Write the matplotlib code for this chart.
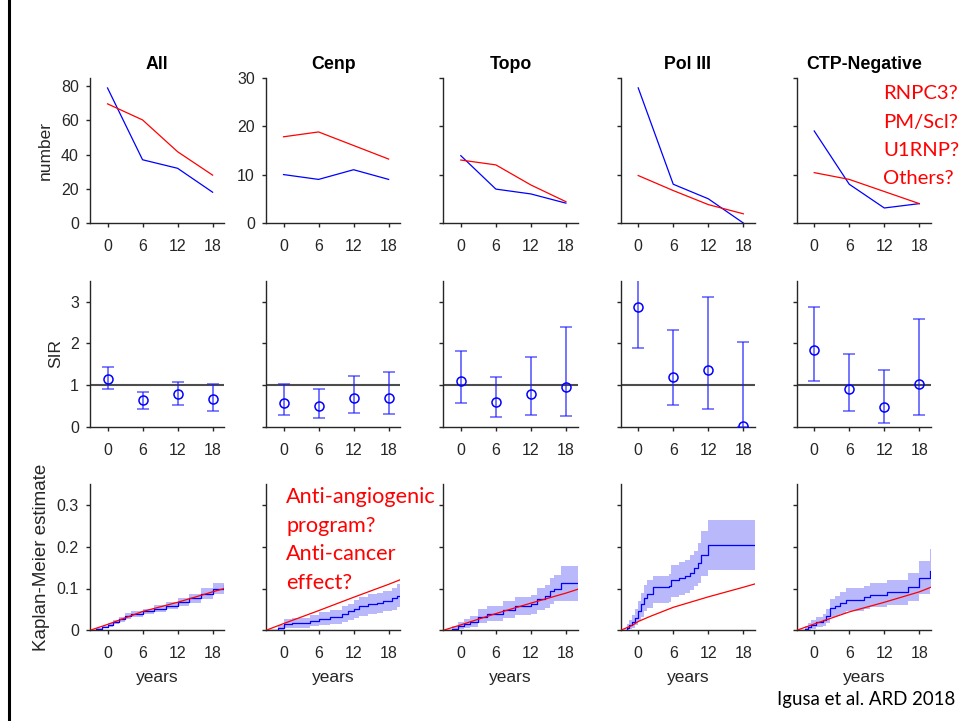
import matplotlib
matplotlib.use("Agg")
import matplotlib.pyplot as plt
from matplotlib.lines import Line2D

plt.rcParams["font.family"] = ["Liberation Sans", "DejaVu Sans"]

groups = ["All", "Cenp", "Topo", "Pol III", "CTP-Negative"]
periods = [0, 6, 12, 18]

# number of cancers: observed (blue) and expected (red)
num_obs = {
    "All": [79, 37, 32, 18],
    "Cenp": [10, 9, 11, 9],
    "Topo": [13.9, 7.0, 6.0, 4.1],
    "Pol III": [27.9, 8.0, 5.0, 0],
    "CTP-Negative": [19.0, 8.0, 3.1, 4.0],
}
num_exp = {
    "All": [69.7, 60.3, 41.7, 28],
    "Cenp": [17.8, 18.8, 16.0, 13.2],
    "Topo": [13.0, 12.0, 7.85, 4.4],
    "Pol III": [9.8, 6.7, 3.8, 1.9],
    "CTP-Negative": [10.4, 9.0, 6.5, 4.0],
}

# standardized incidence ratio with 95% CI
sir = {
    "All": [1.15, 0.63, 0.78, 0.66],
    "Cenp": [0.58, 0.49, 0.70, 0.70],
    "Topo": [1.09, 0.59, 0.78, 0.94],
    "Pol III": [2.87, 1.18, 1.35, 0.02],
    "CTP-Negative": [1.85, 0.90, 0.47, 1.02],
}
sir_lo = {
    "All": [0.90, 0.43, 0.52, 0.38],
    "Cenp": [0.27, 0.22, 0.34, 0.30],
    "Topo": [0.58, 0.23, 0.28, 0.26],
    "Pol III": [1.89, 0.51, 0.43, 0.0],
    "CTP-Negative": [1.10, 0.38, 0.09, 0.27],
}
sir_hi = {
    "All": [1.42, 0.84, 1.07, 1.02],
    "Cenp": [1.03, 0.91, 1.22, 1.30],
    "Topo": [1.81, 1.20, 1.68, 2.38],
    "Pol III": [4.20, 2.32, 3.12, 2.04],
    "CTP-Negative": [2.87, 1.75, 1.35, 2.59],
}

# Kaplan-Meier cumulative incidence (blue step), CI band, expected (red)
km_t = {
    "All": [-3, -2, -1, 0, 1, 2, 3, 4, 6, 8, 10, 12, 14, 16, 18, 20],
    "Cenp": [-3, -1, 0, 1.5, 4.5, 6, 8, 10, 11, 12, 13, 14.5, 16, 17, 18.5, 19.5, 20],
    "Topo": [-3, -1.5, -0.5, 0.5, 1.5, 3, 4.5, 7.2, 9.2, 12, 13, 14.5, 15.3, 16, 17.2, 20],
    "Pol III": [-3, -2, -1.5, -1, -0.5, 0, 0.5, 1, 1.5, 2.5, 5.2, 5.6, 7, 8, 8.8,
                9.5, 10.2, 10.7, 12, 20],
    "CTP-Negative": [-3, -1.5, -1, -0.5, 0.3, 1.5, 2, 2.7, 3.5, 4.5, 5.5, 8.5, 9.5,
                     12.5, 16, 18, 19.8, 20],
}
km_est = {
    "All": [0, 0.003, 0.008, 0.013, 0.02, 0.027, 0.035, 0.039, 0.045, 0.052, 0.059,
            0.067, 0.077, 0.088, 0.1, 0.108],
    "Cenp": [0, 0.005, 0.015, 0.017, 0.023, 0.028, 0.033, 0.039, 0.045, 0.05, 0.057,
             0.062, 0.065, 0.07, 0.077, 0.083, 0.083],
    "Topo": [0, 0.004, 0.01, 0.016, 0.021, 0.032, 0.04, 0.049, 0.058, 0.062, 0.074,
             0.081, 0.093, 0.1, 0.112, 0.112],
    "Pol III": [0, 0.005, 0.012, 0.02, 0.03, 0.045, 0.062, 0.078, 0.088, 0.104, 0.106,
                0.12, 0.125, 0.13, 0.138, 0.148, 0.16, 0.18, 0.203, 0.203],
    "CTP-Negative": [0, 0.003, 0.008, 0.013, 0.019, 0.025, 0.034, 0.053, 0.057, 0.065,
                     0.073, 0.079, 0.085, 0.091, 0.104, 0.125, 0.142, 0.142],
}
km_lo = {
    "All": [0, 0.001, 0.005, 0.009, 0.015, 0.021, 0.028, 0.032, 0.038, 0.044, 0.05,
            0.057, 0.066, 0.076, 0.087, 0.093],
    "Cenp": [0, 0.001, 0.005, 0.006, 0.01, 0.013, 0.016, 0.021, 0.025, 0.03, 0.035,
             0.039, 0.041, 0.045, 0.049, 0.056, 0.056],
    "Topo": [0, 0, 0.002, 0.006, 0.009, 0.017, 0.023, 0.03, 0.037, 0.04, 0.049,
             0.054, 0.063, 0.069, 0.069, 0.069],
    "Pol III": [0, 0, 0.002, 0.006, 0.012, 0.022, 0.033, 0.045, 0.053, 0.065, 0.068,
                0.08, 0.085, 0.09, 0.097, 0.105, 0.114, 0.13, 0.145, 0.145],
    "CTP-Negative": [0, 0, 0.001, 0.004, 0.007, 0.011, 0.017, 0.031, 0.034, 0.04,
                     0.047, 0.052, 0.056, 0.061, 0.071, 0.088, 0.1, 0.1],
}
km_hi = {
    "All": [0, 0.005, 0.011, 0.017, 0.025, 0.033, 0.042, 0.046, 0.052, 0.06, 0.068,
            0.077, 0.088, 0.1, 0.113, 0.123],
    "Cenp": [0, 0.012, 0.027, 0.03, 0.037, 0.043, 0.049, 0.058, 0.064, 0.072, 0.08,
             0.086, 0.09, 0.095, 0.1, 0.11, 0.11],
    "Topo": [0, 0.011, 0.02, 0.028, 0.035, 0.05, 0.059, 0.07, 0.08, 0.085, 0.1,
             0.108, 0.125, 0.133, 0.155, 0.155],
    "Pol III": [0, 0.014, 0.025, 0.037, 0.05, 0.07, 0.09, 0.108, 0.12, 0.13, 0.135,
                0.157, 0.163, 0.169, 0.18, 0.19, 0.21, 0.237, 0.265, 0.265],
    "CTP-Negative": [0, 0.01, 0.017, 0.024, 0.032, 0.04, 0.052, 0.076, 0.081, 0.091,
                     0.1, 0.106, 0.114, 0.12, 0.137, 0.165, 0.195, 0.195],
}
exp_t = {
    "All": [-3, 0, 6, 12, 18, 20],
    "Cenp": [-3, 0, 6, 12, 18, 20],
    "Topo": [-3, 0, 6, 12, 18, 20],
    "Pol III": [-3, -1, 0, 2, 6, 12, 18, 20],
    "CTP-Negative": [-3, 0, 6, 12, 18, 20],
}
exp_v = {
    "All": [0, 0.014, 0.045, 0.067, 0.092, 0.1],
    "Cenp": [0, 0.016, 0.047, 0.079, 0.11, 0.121],
    "Topo": [0, 0.013, 0.04, 0.065, 0.089, 0.098],
    "Pol III": [0, 0.012, 0.021, 0.033, 0.055, 0.08, 0.103, 0.111],
    "CTP-Negative": [0, 0.015, 0.044, 0.067, 0.092, 0.103],
}

note_top = ["RNPC3?", "PM/Scl?", "U1RNP?", "Others?"]
note_km = ["Anti-angiogenic", "program?", "Anti-cancer", "effect?"]
citation = "Igusa et al. ARD 2018"

W, H = 962, 721
fig = plt.figure(figsize=(W / 100, H / 100), dpi=100)

col_left = [90, 266, 443.3, 620.7, 796.7]
ax_w = 134.3
row_box = [(77.7, 223.0), (280.7, 426.7), (484.0, 630.3)]  # top, bottom in px
TICK_FS = 11.5
LABEL_FS = 12.5


def make_ax(col, row):
    top, bot = row_box[row]
    ax = fig.add_axes([col_left[col] / W, (H - bot) / H, ax_w / W, (bot - top) / H])
    for s in ("top", "right"):
        ax.spines[s].set_visible(False)
    for s in ("left", "bottom"):
        ax.spines[s].set_color("#262626")
        ax.spines[s].set_linewidth(1.0)
    ax.tick_params(direction="out", length=3, width=1.0, colors="#262626",
                   labelsize=TICK_FS, labelcolor="#262626")
    ax.tick_params(axis="x", pad=8.5)
    ax.tick_params(axis="y", pad=5)
    ax.set_xlim(-3, 20)
    ax.set_xticks(periods)
    return ax


for c, g in enumerate(groups):
    # row 1: number
    ax = make_ax(c, 0)
    ax.plot(periods, num_obs[g], color="blue", lw=0.9)
    ax.plot(periods, num_exp[g], color="red", lw=0.9)
    if g == "All":
        ax.set_ylim(0, 85)
        ax.set_yticks([0, 20, 40, 60, 80])
        ax.set_ylabel("number", fontsize=LABEL_FS, color="#262626")
        ax.yaxis.set_label_coords((53 - 90) / ax_w, 0.5)
    else:
        ax.set_ylim(0, 30)
        ax.set_yticks([0, 10, 20, 30])
        if g != "Cenp":
            ax.set_yticklabels([])
    ax.set_title(g, fontsize=12.8, fontweight="bold", pad=6)

    # row 2: SIR
    ax = make_ax(c, 1)
    ax.axhline(1, color="#4d4d4d", lw=1.5, zorder=1)
    s = sir[g]
    yerr = [[v - l for v, l in zip(s, sir_lo[g])], [h - v for v, h in zip(s, sir_hi[g])]]
    ax.errorbar(periods, s, yerr=yerr, fmt="o", mfc="none", mec="blue", mew=1.1,
                ms=6.5, ecolor=(0.1, 0.1, 1.0, 0.7), elinewidth=1.2, capsize=4,
                capthick=1.2, zorder=3)
    ax.set_ylim(0, 3.5)
    ax.set_yticks([0, 1, 2, 3])
    if g == "All":
        ax.set_ylabel("SIR", fontsize=LABEL_FS, color="#262626")
        ax.yaxis.set_label_coords((63 - 90) / ax_w, 0.5)
    else:
        ax.set_yticklabels([])

    # row 3: Kaplan-Meier
    ax = make_ax(c, 2)
    ax.fill_between(km_t[g], km_lo[g], km_hi[g], step="post",
                    color=(0.72, 0.72, 0.98), lw=0, zorder=1)
    ax.step(km_t[g], km_est[g], where="post", color="blue", lw=0.9, zorder=2)
    ax.plot(exp_t[g], exp_v[g], color="red", lw=0.9, zorder=3)
    ax.set_ylim(0, 0.35)
    ax.set_yticks([0, 0.1, 0.2, 0.3])
    if g == "All":
        ax.set_yticklabels(["0", "0.1", "0.2", "0.3"])
        ax.set_ylabel("Kaplan-Meier estimate", fontsize=13.5, color="#262626")
        ax.yaxis.set_label_coords((50 - 90) / ax_w, 0.5)
    else:
        ax.set_yticklabels([])
    ax.set_xlabel("years", fontsize=LABEL_FS, color="#262626", labelpad=6)

# red annotations (Calibri-like text on the slide); size fitted to slide width
note_font = ["Lato", "DejaVu Sans"]
renderer = fig.canvas.get_renderer()


def fitted_size(lines, target_px, base=16):
    widths = []
    for line in lines:
        t = fig.text(0, 0, line, fontsize=base, family=note_font)
        widths.append(t.get_window_extent(renderer).width)
        t.remove()
    return base * target_px / max(widths)


top_fs = fitted_size(note_top, 76)
for i, line in enumerate(note_top):
    fig.text(883 / W, 1 - (99.3 + 28.3 * i) / H, line, color="red", fontsize=top_fs,
             family=note_font, va="baseline", ha="left")
km_fs = fitted_size(note_km, 150)
for i, line in enumerate(note_km):
    fig.text(286 / W, 1 - (503.3 + 28.6 * i) / H, line, color="red", fontsize=km_fs,
             family=note_font, va="baseline", ha="left")
fig.text(955 / W, 1 - 705 / H, citation, color="black",
         fontsize=fitted_size([citation], 179), family=note_font, va="baseline",
         ha="right")

# slide frame
fig.add_artist(Line2D([9 / W, 9 / W], [0, 1], color="black", lw=2.2))

fig.savefig("out.png", dpi=100)
